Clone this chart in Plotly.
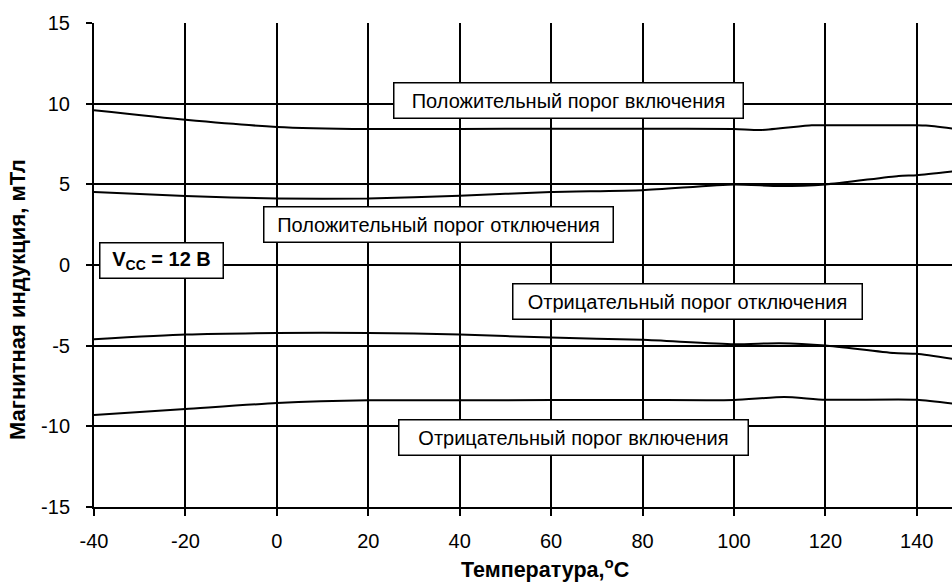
import plotly.graph_objects as go

# Data
t_pos_on = [-40, -20, 0, 20, 40, 60, 80, 100, 106, 117, 120, 140, 142, 148]
pos_on = [9.59, 9.0, 8.56, 8.43, 8.43, 8.45, 8.45, 8.43, 8.37, 8.66, 8.66, 8.66, 8.64, 8.45]

t_pos_off = [-40, -20, 0, 20, 40, 60, 80, 100, 110, 120, 136, 140, 148]
pos_off = [4.53, 4.27, 4.12, 4.12, 4.29, 4.53, 4.64, 4.99, 4.89, 4.99, 5.52, 5.57, 5.81]

t_neg_off = [-40, -20, 0, 20, 40, 60, 80, 100, 110, 120, 135, 140, 148]
neg_off = [-4.6, -4.31, -4.21, -4.21, -4.31, -4.5, -4.64, -4.91, -4.85, -4.99, -5.46, -5.5, -5.83]

t_neg_on = [-40, -20, 0, 20, 40, 60, 80, 100, 111, 120, 140, 148]
neg_on = [-9.3, -8.93, -8.56, -8.39, -8.39, -8.37, -8.37, -8.37, -8.18, -8.35, -8.35, -8.6]

x_ticks = [-40, -20, 0, 20, 40, 60, 80, 100, 120, 140]
y_ticks = [-15, -10, -5, 0, 5, 10, 15]

labels = [
    ("Положительный порог включения", 63.8, 10.2),
    ("Положительный порог отключения", 35.3, 2.54),
    ("Отрицательный порог отключения", 89.8, -2.29),
    ("Отрицательный порог включения", 64.9, -10.7),
]
vcc_label = ("V<sub>CC</sub> = 12 В", -25.2, 0.3)

FONT = "Liberation Sans, Arial, sans-serif"

fig = go.Figure()
for xs, ys in [(t_pos_on, pos_on), (t_pos_off, pos_off), (t_neg_off, neg_off), (t_neg_on, neg_on)]:
    fig.add_trace(go.Scatter(x=xs, y=ys, mode="lines",
                             line=dict(color="black", width=2, shape="spline", smoothing=0.6),
                             showlegend=False, hoverinfo="skip"))

for text, x, y in labels:
    fig.add_annotation(x=x, y=y, xref="x", yref="y", text=text, showarrow=False,
                       font=dict(family=FONT, size=20, color="black"),
                       bgcolor="white", bordercolor="black", borderwidth=1.5, borderpad=6,
                       width=336, height=22)

fig.add_annotation(x=vcc_label[1], y=vcc_label[2], xref="x", yref="y", text="<b>" + vcc_label[0] + "</b>",
                   showarrow=False, font=dict(family=FONT, size=20, color="black"),
                   bgcolor="white", bordercolor="black", borderwidth=1.5, borderpad=6,
                   width=110, height=22)

W, H = 952, 585
L, R, T, B = 94, 0, 23, 78
pw, ph = W - L - R, H - T - B

def paper(px, py):
    return (px - L) / pw, (H - B - py) / ph

xt = paper(545, 568)
yt = paper(17, 300)
fig.add_annotation(x=xt[0], y=xt[1], xref="paper", yref="paper", text="<b>Температура,<sup>o</sup>C</b>",
                   xanchor="center", yanchor="middle",
                   showarrow=False, font=dict(family=FONT, size=21.5, color="black"))
fig.add_annotation(x=yt[0], y=yt[1], xref="paper", yref="paper", text="<b>Магнитная индукция, мТл</b>",
                   xanchor="center", yanchor="middle",
                   textangle=-90, showarrow=False, font=dict(family=FONT, size=22, color="black"))

fig.update_layout(
    width=W, height=H,
    margin=dict(l=L, r=R, t=T, b=B, autoexpand=False),
    paper_bgcolor="white", plot_bgcolor="white",
    font=dict(family=FONT, size=20, color="black"),
    xaxis=dict(range=[-40, 147.7], tickvals=x_ticks, ticktext=[str(v) for v in x_ticks],
               showgrid=True, gridcolor="black", gridwidth=2, zeroline=False,
               showline=True, linecolor="black", linewidth=2,
               ticks="outside", ticklen=7, tickwidth=2, tickcolor="black",
               ticklabelstandoff=8, automargin=False),
    yaxis=dict(range=[-15, 15], tickvals=y_ticks, ticktext=[str(v) for v in y_ticks],
               showgrid=True, gridcolor="black", gridwidth=2, zeroline=False,
               showline=True, linecolor="black", linewidth=2,
               ticks="outside", ticklen=6, tickwidth=2, tickcolor="black",
               ticklabelstandoff=12, automargin=False),
)

fig.write_html("out.html", config={"displayModeBar": False},
               post_script="document.body.style.margin='0';document.body.style.overflow='hidden';")
